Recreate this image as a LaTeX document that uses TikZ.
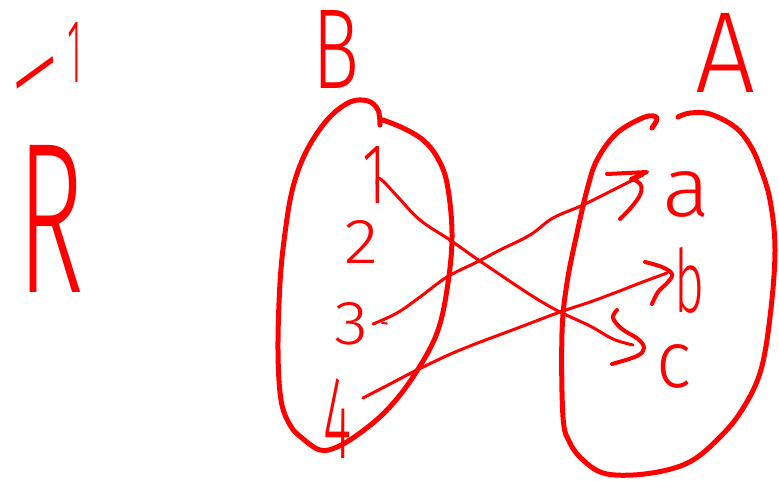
\documentclass[tikz,border=0pt]{standalone}
\usepackage{fontspec}
\usepackage{graphicx}
\IfFontExistsTF{Fira Sans Light}{\newfontfamily\hwfont{Fira Sans Light}}{%
  \IfFontExistsTF{DejaVu Sans ExtraLight}{\newfontfamily\hwfont{DejaVu Sans ExtraLight}}{%
    \newfontfamily\hwfont{Latin Modern Sans}}}
\definecolor{pen}{RGB}{255,0,0}
\newcommand{\hwtext}[3]{\resizebox{#1pt}{#2pt}{\hwfont #3}}
\tikzset{
  blob/.style={draw=pen, line width=5pt, line cap=round, line join=round},
  conn/.style={draw=pen, line width=3pt, line cap=round, line join=round},
  tipstroke/.style={draw=pen, line width=4pt, line cap=round, line join=round},
  lbl/.style={text=pen, inner sep=0pt, outer sep=0pt, anchor=center}
}
\begin{document}
\begin{tikzpicture}[x=1pt, y=-1pt]
\useasboundingbox (0,0) rectangle (779,480);
% labels
\node[lbl] (minusone) at (46,52) {\hwtext{72}{60}{\raisebox{-0.55em}[0pt][0pt]{\rotatebox{16}{\scalebox{3}[1.4]{−}}}\hspace{0.05em}1}};
\node[lbl] (R) at (51.5,218.5) {\hwtext{67}{147}{R}};
\node[lbl] (B) at (336.5,49) {\hwtext{47}{78}{B}};
\node[lbl] (A) at (725,52.5) {\hwtext{60}{79}{A}};
\node[lbl] (one) at (374,174.5) {\hwtext{24}{57}{1}};
\node[lbl] (two) at (361,241.5) {\hwtext{34}{43}{2}};
\node[lbl] (three) at (351,324) {\hwtext{34}{42}{3}};
\node[lbl] (four) at (337.5,418) {\hwtext{28}{80}{4}};
\node[lbl] (a) at (686,194.5) {\hwtext{48}{45}{a}};
\node[lbl] (b) at (689,280.5) {\hwtext{30}{65}{b}};
\node[lbl] (c) at (674.5,366.5) {\hwtext{35}{43}{c}};
% set B
\draw[blob] plot[smooth, tension=0.6] coordinates {(380,125) (378,110) (368,101) (350,102) (328,119) (307,150) (293,187) (285,233) (280,283) (278,350) (281,400) (290,425) (302,438) (320,450) (337,447) (360,433) (387,410) (413,377) (437,333) (448,283) (452,233) (447,183) (437,157) (423,140) (403,128) (383,120)};
% set A
\draw[blob] plot[smooth, tension=0.6] coordinates {(652,128) (657,118) (645,117) (617,133) (597,160) (587,190) (577,233) (567,283) (562,333) (563,417) (570,443) (583,460) (603,473) (633,475) (667,470) (693,460) (717,440) (740,413) (760,373) (770,317) (775,250) (770,200) (760,167) (750,145) (735,127) (710,114) (690,113) (678,117)};
% 1 -> c
\coordinate (c1s) at (377,184);
\draw[conn] plot[smooth, tension=0.6] coordinates {(c1s) (378,178) (384,182) (397,196) (420,220) (450,240) (477,259) (517,286) (537,299) (560,312) (590,326) (613,339) (633,345)};
\draw[tipstroke] plot[smooth, tension=0.6] coordinates {(617,310) (613,318) (622,329) (638,339) (644,348) (637,356) (612,364)};
% 3 -> a
\coordinate (c3s) at (373,324);
\draw[conn] plot[smooth, tension=0.6] coordinates {(c3s) (397,313) (420,297) (447,277) (477,262) (500,250) (530,235) (553,218) (583,205) (617,188) (643,175)};
\draw[draw=pen, line width=2pt, line cap=round] (382,323) -- (387,323.5);
\draw[tipstroke] (607,174) -- (647,172) -- (631,179) .. controls (648,183) and (645,195) .. (620,219);
% 4 -> b
\coordinate (c4s) at (363,398);
\draw[conn] plot[smooth, tension=0.6] coordinates {(c4s) (390,384) (417,370) (460,350) (523,326) (560,312) (590,302) (617,292) (640,283) (667,273)};
\draw[tipstroke] plot[smooth, tension=0.6] coordinates {(645,262) (662,267) (672,274) (668,282) (658,292) (652,304)};
\end{tikzpicture}
\end{document}
